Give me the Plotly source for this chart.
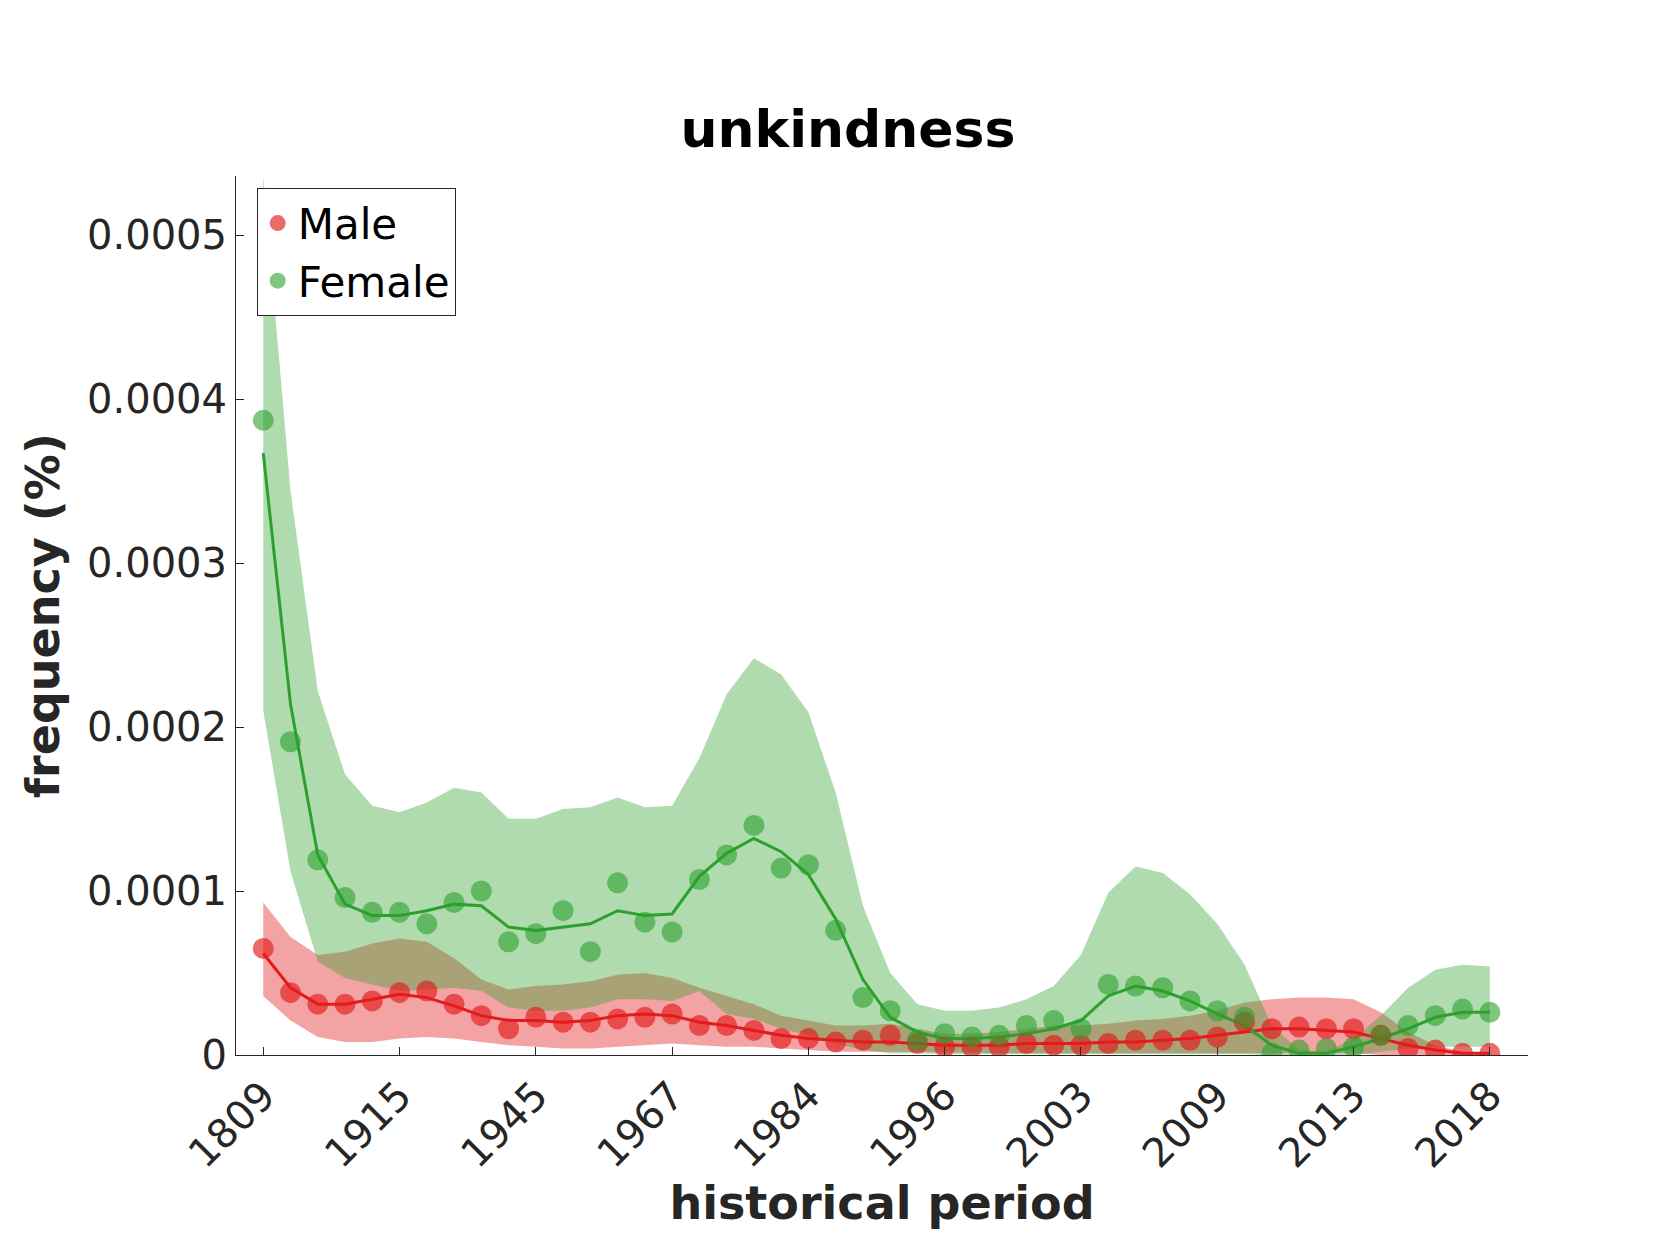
import plotly.graph_objects as go

# periods (index positions 0..45), every 5th labelled
tick_labels = ["1809", "1915", "1945", "1967", "1984", "1996", "2003", "2009", "2013", "2018"]
n = 46
x = list(range(n))

# values in units of 1e-4 %
female_dots = [3.87, 1.91, 1.19, 0.96, 0.87, 0.87, 0.80, 0.93, 1.00, 0.69, 0.74, 0.88, 0.63, 1.05,
               0.81, 0.75, 1.07, 1.22, 1.40, 1.14, 1.16, 0.76, 0.35, 0.27, 0.09, 0.13, 0.11, 0.12,
               0.18, 0.21, 0.16, 0.43, 0.42, 0.41, 0.33, 0.27, 0.23, 0.01, 0.03, 0.04, 0.05, 0.12,
               0.18, 0.24, 0.28, 0.26]
female_line = [3.67, 2.14, 1.22, 0.92, 0.85, 0.85, 0.88, 0.92, 0.91, 0.78, 0.76, 0.78, 0.80, 0.88,
               0.85, 0.86, 1.09, 1.23, 1.32, 1.24, 1.10, 0.83, 0.46, 0.23, 0.14, 0.10, 0.10, 0.11,
               0.13, 0.16, 0.21, 0.36, 0.42, 0.39, 0.33, 0.25, 0.18, 0.06, 0.01, 0.01, 0.05, 0.10,
               0.16, 0.23, 0.26, 0.26]
female_upper = [5.36, 3.44, 2.22, 1.71, 1.52, 1.48, 1.54, 1.63, 1.60, 1.44, 1.44, 1.50, 1.51, 1.57,
                1.51, 1.52, 1.81, 2.20, 2.42, 2.32, 2.09, 1.60, 0.91, 0.50, 0.31, 0.27, 0.27, 0.29,
                0.34, 0.42, 0.61, 0.99, 1.15, 1.11, 0.98, 0.80, 0.55, 0.18, 0.03, 0.02, 0.10, 0.24,
                0.41, 0.52, 0.55, 0.54]
female_lower = [2.10, 1.12, 0.57, 0.47, 0.43, 0.39, 0.40, 0.41, 0.39, 0.29, 0.27, 0.27, 0.29, 0.34,
                0.34, 0.33, 0.39, 0.25, 0.22, 0.16, 0.12, 0.07, 0.03, 0.01, 0.01, 0.005, 0.005, 0.005,
                0.005, 0.005, 0.005, 0.005, 0.005, 0.005, 0.005, 0.005, 0.005, 0.0, 0.0, 0.0, 0.0, 0.02,
                0.04, 0.05, 0.05, 0.05]
male_dots = [0.65, 0.38, 0.31, 0.31, 0.33, 0.38, 0.39, 0.31, 0.24, 0.16, 0.23, 0.20, 0.20, 0.22,
             0.23, 0.25, 0.18, 0.18, 0.15, 0.10, 0.10, 0.08, 0.09, 0.12, 0.07, 0.05, 0.05, 0.05,
             0.07, 0.06, 0.06, 0.07, 0.09, 0.09, 0.09, 0.11, 0.20, 0.16, 0.17, 0.16, 0.16, 0.12,
             0.04, 0.03, 0.01, 0.01]
male_line = [0.62, 0.41, 0.31, 0.31, 0.34, 0.37, 0.35, 0.30, 0.24, 0.21, 0.21, 0.20, 0.21, 0.24,
             0.25, 0.24, 0.20, 0.18, 0.15, 0.12, 0.10, 0.09, 0.08, 0.08, 0.07, 0.06, 0.06, 0.06,
             0.07, 0.07, 0.07, 0.08, 0.08, 0.09, 0.10, 0.12, 0.14, 0.16, 0.16, 0.15, 0.14, 0.10,
             0.06, 0.03, 0.01, 0.01]
male_upper = [0.93, 0.72, 0.61, 0.63, 0.68, 0.71, 0.69, 0.59, 0.46, 0.40, 0.42, 0.43, 0.45, 0.49,
              0.50, 0.47, 0.41, 0.36, 0.31, 0.24, 0.21, 0.18, 0.18, 0.19, 0.16, 0.13, 0.13, 0.14,
              0.16, 0.18, 0.18, 0.19, 0.21, 0.22, 0.24, 0.27, 0.32, 0.34, 0.35, 0.35, 0.34, 0.26,
              0.14, 0.06, 0.02, 0.01]
male_lower = [0.36, 0.21, 0.11, 0.08, 0.08, 0.10, 0.11, 0.10, 0.08, 0.06, 0.05, 0.04, 0.04, 0.05,
              0.06, 0.07, 0.06, 0.05, 0.05, 0.04, 0.03, 0.02, 0.02, 0.02, 0.02, 0.015, 0.015, 0.01,
              0.01, 0.01, 0.01, 0.01, 0.01, 0.01, 0.01, 0.01, 0.01, 0.01, 0.01, 0.01, 0.01, 0.0,
              0.0, 0.0, 0.0, 0.0]

S = 1e-4
sc = lambda v: [a * S for a in v]

fig = go.Figure()

def band(upper, lower, color):
    fig.add_trace(go.Scatter(x=x, y=sc(upper), mode="lines", line=dict(width=0),
                             showlegend=False, hoverinfo="skip"))
    fig.add_trace(go.Scatter(x=x, y=sc(lower), mode="lines", line=dict(width=0),
                             fill="tonexty", fillcolor=color, showlegend=False, hoverinfo="skip"))

band(male_upper, male_lower, "rgba(228,26,28,0.4)")
band(female_upper, female_lower, "rgba(44,160,44,0.38)")

fig.add_trace(go.Scatter(x=x, y=sc(male_line), mode="lines",
                         line=dict(color="#e41a1c", width=3), showlegend=False))
fig.add_trace(go.Scatter(x=x, y=sc(female_line), mode="lines",
                         line=dict(color="#2ca02c", width=3), showlegend=False))
fig.add_trace(go.Scatter(x=x, y=sc(male_dots), mode="markers", name="Male",
                         marker=dict(color="rgba(228,26,28,0.65)", size=21)))
fig.add_trace(go.Scatter(x=x, y=sc(female_dots), mode="markers", name="Female",
                         marker=dict(color="rgba(44,160,44,0.6)", size=21)))

fig.update_layout(
    width=1680, height=1260,
    paper_bgcolor="white", plot_bgcolor="white",
    font=dict(family="DejaVu Sans", size=40, color="#262626"),
    margin=dict(l=228, r=160, t=168, b=213),
    title=dict(text="<b>unkindness</b>", x=0.5, xanchor="center", y=0.89, yanchor="bottom",
               font=dict(size=52, color="black")),
    legend=dict(x=0.016, y=0.986, xanchor="left", yanchor="top", bgcolor="white",
                bordercolor="#262626", borderwidth=1, font=dict(size=42, color="black"),
                itemsizing="trace", traceorder="normal"),
)
fig.update_xaxes(
    range=[-1, 46.4], tickvals=list(range(0, n, 5)), ticktext=tick_labels,
    tickangle=-45, ticks="inside", ticklen=8, tickcolor="#262626",
    showline=True, linecolor="#262626", showgrid=False, zeroline=False,
    title=dict(text="<b>historical period</b>", font=dict(size=46), standoff=10),
    automargin=False,
)
fig.update_yaxes(
    range=[0, 5.36e-4], tickvals=[0, 1e-4, 2e-4, 3e-4, 4e-4, 5e-4],
    ticktext=["0", "0.0001", "0.0002", "0.0003", "0.0004", "0.0005"],
    ticks="inside", ticklen=8, tickcolor="#262626",
    showline=True, linecolor="#262626", showgrid=False, zeroline=False,
    title=dict(text="<b>frequency (%)</b>", font=dict(size=46), standoff=12),
    automargin=False,
)

fig.write_html("out.html")
